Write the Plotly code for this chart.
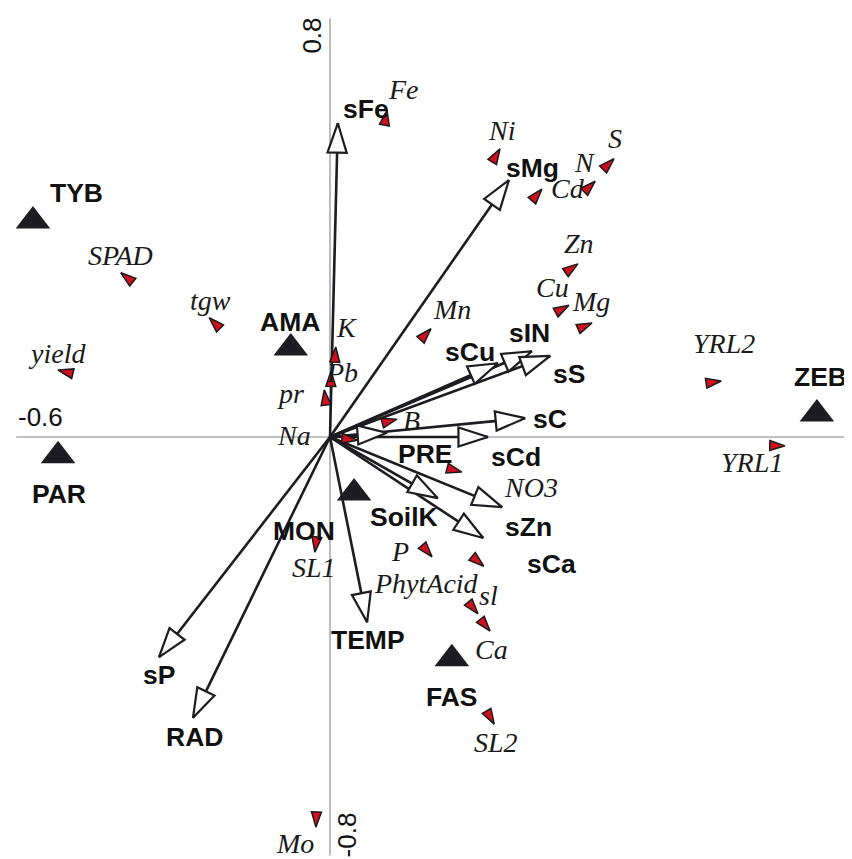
import math
import plotly.graph_objects as go

# ---------------- data ----------------
# environmental variables (arrows): tip coordinates
env_names = ["sFe", "sMg", "sCu", "sIN", "sS", "sC", "PRE", "sCd", "SoilK", "sZn", "sCa", "TEMP", "RAD", "sP"]
env_x = [0.015, 0.342, 0.321, 0.386, 0.421, 0.373, 0.109, 0.302, 0.206, 0.329, 0.293, 0.071, -0.262, -0.327]
env_y = [0.600, 0.491, 0.141, 0.164, 0.155, 0.036, 0.008, 0.000, -0.117, -0.134, -0.193, -0.354, -0.537, -0.421]

# sites (nominal variables, black triangles)
site_names = ["TYB", "AMA", "PAR", "ZEB", "MON", "FAS"]
site_x = [-0.568, -0.075, -0.520, 0.931, 0.046, 0.233]
site_y = [0.413, 0.170, -0.036, 0.044, -0.107, -0.424]

# response variables (species arrow heads)
sp_names = ["Fe", "Ni", "S", "N", "Cd", "Zn", "Cu", "Mg", "Mn", "K", "Pb", "pr", "Na", "B", "NO3",
            "YRL2", "YRL1", "P", "PhytAcid", "sl", "Ca", "SL2", "SL1", "Mo", "SPAD", "tgw", "yield"]
sp_x = [0.109, 0.325, 0.543, 0.507, 0.405, 0.474, 0.457, 0.501, 0.193, 0.011, 0.002, -0.011, 0.052, 0.128, 0.252,
        0.748, 0.870, 0.195, 0.294, 0.283, 0.306, 0.314, -0.029, -0.027, -0.400, -0.231, -0.520]
sp_y = [0.625, 0.551, 0.532, 0.489, 0.474, 0.331, 0.252, 0.218, 0.207, 0.172, 0.126, 0.090, -0.006, 0.034, -0.067,
        0.107, -0.017, -0.229, -0.247, -0.338, -0.371, -0.549, -0.220, -0.746, 0.314, 0.228, 0.128]

# axis tick labels
axis_ticks = ["-0.6", "1.0", "0.8", "-0.8"]

# ---------------- label placement (pixel offsets, +dy = down) ----------------
env_lab_dx = [28, 24, -28, -2, 19, 25, 38, 28, -34, 26, 68, 1, 2, 0]
env_lab_dy = [-14, -12, -11, -18, 18, 1, 21, 20, 19, 20, 26, 18, 19, 18]
site_lab_dx = [44, -1, 1, 4, -50, 0]
site_lab_dy = [-28, -26, 38, -37, 38, 38]
sp_lab_dx = [16, 2, 1, -11, 26, 1, -17, -1, 21, 11, 11, -34, -63, 15, 69,
             3, -33, -32, -57, 10, 1, 2, -1, -21, 0, 1, -1]
sp_lab_dy = [-21, -18, -20, -19, -1, -20, -18, -21, -19, -20, 1, 4, -5, 1, 15,
             -38, 17, -5, 17, -18, 18, 18, 15, 16, -17, -17, -17]

INK = "#1c1c22"
BOLD_FONT = dict(family="Arial, 'Liberation Sans', sans-serif", size=26.5, color="#111111", weight="bold")
ITAL_FONT = dict(family="'Times New Roman', 'Liberation Serif', serif", size=28, color="#1a1a1a", style="italic")
TICK_FONT = dict(family="Arial, 'Liberation Sans', sans-serif", size=26, color="#111111")


def ang(x, y):
    return math.degrees(math.atan2(x, y))


fig = go.Figure()

# axis lines
fig.add_shape(type="line", x0=-0.6, x1=1.0, y0=0, y1=0, line=dict(color="#ababab", width=1.6), layer="below")
fig.add_shape(type="line", x0=0, x1=0, y0=-0.8, y1=0.8, line=dict(color="#ababab", width=1.6), layer="below")

# arrow shafts
lx, ly = [], []
for x, y in zip(env_x, env_y):
    lx += [0, x, None]
    ly += [0, y, None]
fig.add_trace(go.Scatter(x=lx, y=ly, mode="lines", line=dict(color=INK, width=2.6), hoverinfo="skip"))

# hollow arrow heads
fig.add_trace(go.Scatter(
    x=env_x, y=env_y, mode="markers", hoverinfo="skip",
    marker=dict(symbol="arrow", size=31, angle=[ang(x, y) for x, y in zip(env_x, env_y)],
                color="white", line=dict(color=INK, width=2.2))))

# sites
fig.add_trace(go.Scatter(
    x=site_x, y=site_y, mode="markers", hoverinfo="skip",
    marker=dict(symbol="triangle-up", size=30, color=INK, line=dict(width=0))))

# species heads
fig.add_trace(go.Scatter(
    x=sp_x, y=sp_y, mode="markers", hoverinfo="skip",
    marker=dict(symbol="arrow", size=16, angle=[ang(x, y) for x, y in zip(sp_x, sp_y)],
                color="#d0101e", line=dict(color="#1a1a1a", width=1.5))))

annotations = []
for n, x, y, dx, dy in zip(env_names, env_x, env_y, env_lab_dx, env_lab_dy):
    annotations.append(dict(x=x, y=y, text=n, showarrow=False, xshift=dx, yshift=-dy,
                            xanchor="center", yanchor="middle", font=BOLD_FONT))
for n, x, y, dx, dy in zip(site_names, site_x, site_y, site_lab_dx, site_lab_dy):
    annotations.append(dict(x=x, y=y, text=n, showarrow=False, xshift=dx, yshift=-dy,
                            xanchor="center", yanchor="middle", font=BOLD_FONT))
for n, x, y, dx, dy in zip(sp_names, sp_x, sp_y, sp_lab_dx, sp_lab_dy):
    annotations.append(dict(x=x, y=y, text=n, showarrow=False, xshift=dx, yshift=-dy,
                            xanchor="center", yanchor="middle", font=ITAL_FONT))

# axis end labels
annotations.append(dict(x=-0.6, y=0, text=axis_ticks[0], showarrow=False, xanchor="left", yanchor="middle",
                        xshift=0, yshift=20, font=TICK_FONT))
annotations.append(dict(x=1.0, y=0, text=axis_ticks[1], showarrow=False, xanchor="right", yanchor="middle",
                        xshift=-2, yshift=-18, font=TICK_FONT))
annotations.append(dict(x=0, y=0.8, text=axis_ticks[2], showarrow=False, xanchor="center", yanchor="middle",
                        textangle=-90, xshift=-18, yshift=-17, font=TICK_FONT))
annotations.append(dict(x=0, y=-0.8, text=axis_ticks[3], showarrow=False, xanchor="center", yanchor="middle",
                        textangle=-90, xshift=17, yshift=20, font=TICK_FONT))

# page body has an 8px margin: figure occupies the window from (8, 8)
fig.update_layout(
    width=844, height=851,
    margin=dict(l=0, r=0, t=0, b=0),
    paper_bgcolor="white", plot_bgcolor="white",
    showlegend=False,
    xaxis=dict(range=[-0.6157, 0.9981], visible=False, fixedrange=True),
    yaxis=dict(range=[-0.8069, 0.8203], visible=False, fixedrange=True),
    annotations=annotations,
)

fig.write_html("out.html")
